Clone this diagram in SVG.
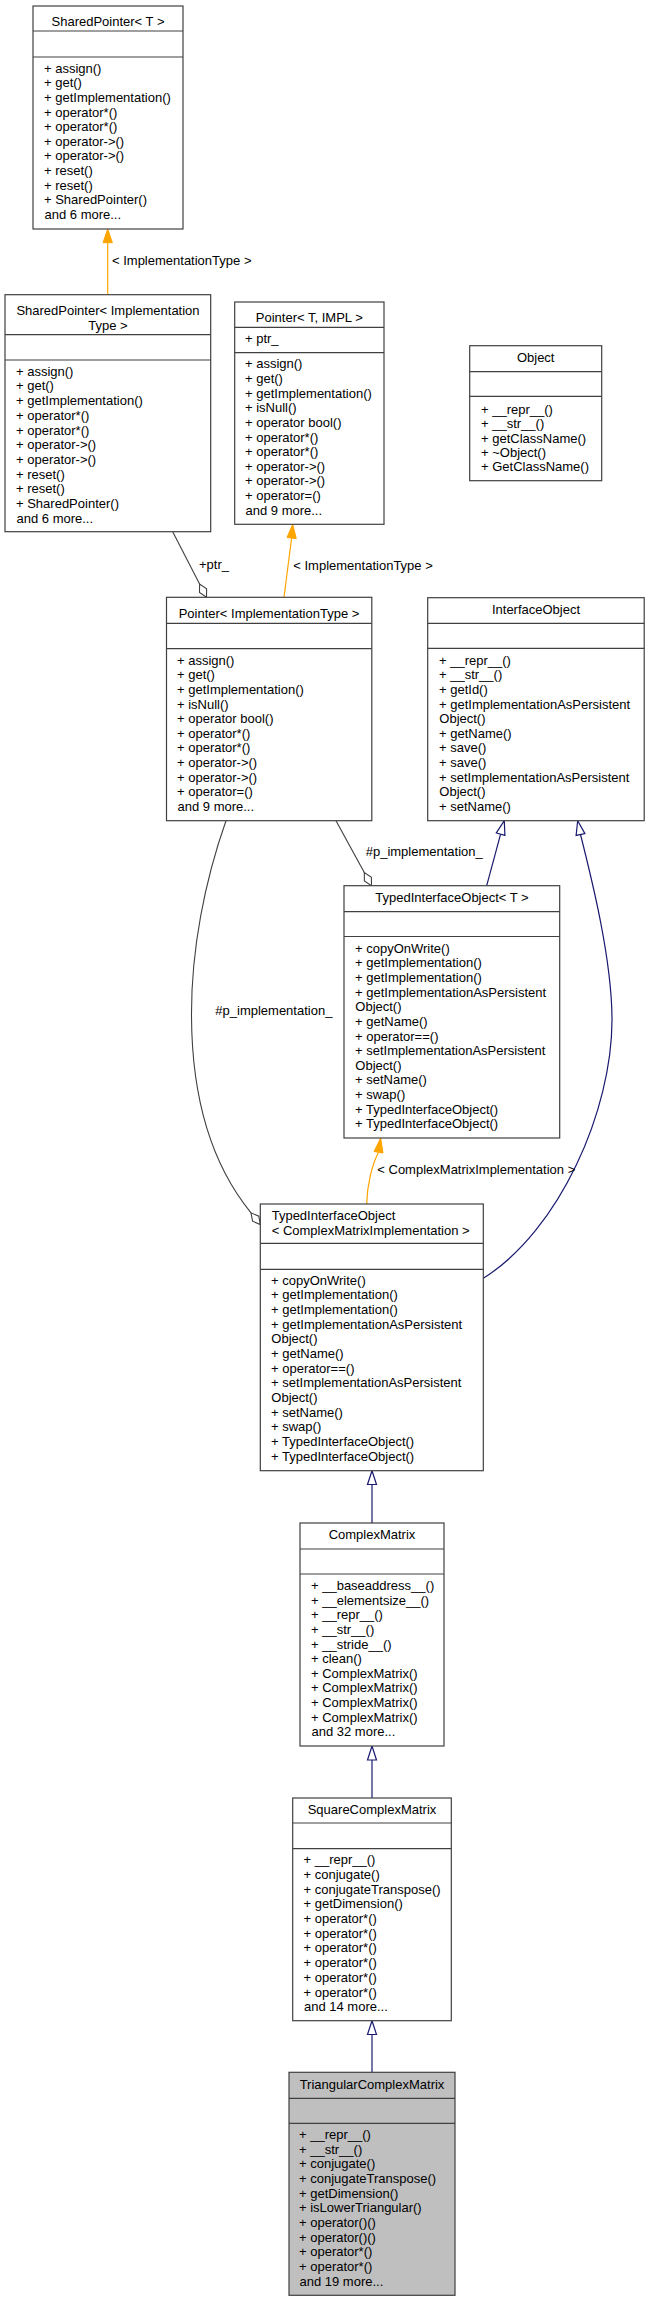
<svg xmlns="http://www.w3.org/2000/svg" width="649" height="2301" viewBox="0 0 649 2301">
<style>
text{font-family:"Liberation Sans",Arial,sans-serif;font-size:13px;fill:#000}
.c{text-anchor:middle}
.box{fill:#fff;stroke:#404040;stroke-width:1.2}
.sel{fill:#bfbfbf;stroke:#404040;stroke-width:1.2}
.sep{stroke:#404040;stroke-width:1.2}
.inh{fill:none;stroke:#191970;stroke-width:1.2}
.inhh{fill:#fff;stroke:#191970;stroke-width:1.2}
.tpl{fill:none;stroke:#ffa500;stroke-width:1.2}
.tplh{fill:#ffa500;stroke:#ffa500;stroke-width:1}
.agg{fill:none;stroke:#404040;stroke-width:1.1}
.aggh{fill:#fff;stroke:#404040;stroke-width:1.1}
</style>
<rect width="649" height="2301" fill="#fff"/>
<g id="connectors">
<line class="tpl" x1="107.7" y1="294.7" x2="107.7" y2="242.7"/>
<polygon class="tplh" points="107.7,229 103,242.7 112.4,242.7"/>
<text x="112" y="265">&lt; ImplementationType &gt;</text>
<line class="tpl" x1="284" y1="597.3" x2="291.6" y2="538"/>
<polygon class="tplh" points="292.7,524.3 287,537.5 296.3,538.6"/>
<text x="293.3" y="569.5">&lt; ImplementationType &gt;</text>
<line class="agg" x1="172.7" y1="531.7" x2="199.6" y2="584"/>
<polygon class="aggh" points="206.5,597.3 206.6,588.8 199.6,584 199.5,592.5"/>
<text x="199" y="569">+ptr_</text>
<line class="agg" x1="336" y1="820.7" x2="364.3" y2="872.5"/>
<polygon class="aggh" points="371.5,885.7 371.4,877.2 364.3,872.5 364.4,881"/>
<text x="365.7" y="856">#p_implementation_</text>
<line class="inh" x1="486.7" y1="885.7" x2="500.6" y2="834.2"/>
<polygon class="inhh" points="504.3,820.7 504.9,835.4 496.3,833"/>
<path class="inh" d="M483.3,1278.3 C560,1230 612,1110 612,1020 C612,960 592,880 580.5,834.5"/>
<polygon class="inhh" points="577.7,820.7 584.9,833.6 576.1,835.4"/>
<path class="tpl" d="M366.7,1204 C367,1185 372,1165 378.5,1152.3"/>
<polygon class="tplh" points="380.7,1138 374,1151.5 383,1153"/>
<text x="377.3" y="1173.5">&lt; ComplexMatrixImplementation &gt;</text>
<path class="agg" d="M226,820.7 C205,880 191,950 191.5,1017 C192,1100 212,1165 251,1212.8"/>
<polygon class="aggh" points="260.3,1224.5 258.8,1216.2 251,1212.8 252.6,1221.2"/>
<text x="215.3" y="1015">#p_implementation_</text>
<line class="inh" x1="372" y1="1523" x2="372" y2="1484.5"/>
<polygon class="inhh" points="372,1470.7 367.5,1484.5 376.5,1484.5"/>
<line class="inh" x1="372" y1="1798" x2="372" y2="1760"/>
<polygon class="inhh" points="372,1746 367.5,1760 376.5,1760"/>
<line class="inh" x1="372" y1="2072.3" x2="372" y2="2034.5"/>
<polygon class="inhh" points="372,2020.7 367.5,2034.5 376.5,2034.5"/>
</g>
<g id="SharedPointerT">
<rect class="box" x="33" y="6" width="150" height="223"/>
<line class="sep" x1="33" y1="31" x2="183" y2="31"/>
<line class="sep" x1="33" y1="57" x2="183" y2="57"/>
<text class="c" x="108" y="25.5">SharedPointer&lt; T &gt;</text>
<text x="44" y="72.7">+ assign()</text>
<text x="44" y="87.3">+ get()</text>
<text x="44" y="101.9">+ getImplementation()</text>
<text x="44" y="116.5">+ operator*()</text>
<text x="44" y="131.1">+ operator*()</text>
<text x="44" y="145.7">+ operator-&gt;()</text>
<text x="44" y="160.3">+ operator-&gt;()</text>
<text x="44" y="174.9">+ reset()</text>
<text x="44" y="189.5">+ reset()</text>
<text x="44" y="204.1">+ SharedPointer()</text>
<text x="44.5" y="218.7">and 6 more...</text>
</g>
<g id="SharedPointerImpl">
<rect class="box" x="5" y="294.7" width="205.7" height="237"/>
<line class="sep" x1="5" y1="334.7" x2="210.7" y2="334.7"/>
<line class="sep" x1="5" y1="360" x2="210.7" y2="360"/>
<text class="c" x="108" y="315">SharedPointer&lt; Implementation</text>
<text class="c" x="108" y="329.5">Type &gt;</text>
<text x="16" y="375.7">+ assign()</text>
<text x="16" y="390.4">+ get()</text>
<text x="16" y="405.1">+ getImplementation()</text>
<text x="16" y="419.8">+ operator*()</text>
<text x="16" y="434.5">+ operator*()</text>
<text x="16" y="449.2">+ operator-&gt;()</text>
<text x="16" y="463.9">+ operator-&gt;()</text>
<text x="16" y="478.6">+ reset()</text>
<text x="16" y="493.3">+ reset()</text>
<text x="16" y="508">+ SharedPointer()</text>
<text x="16.5" y="522.7">and 6 more...</text>
</g>
<g id="PointerTIMPL">
<rect class="box" x="234.7" y="302" width="149.3" height="222.3"/>
<line class="sep" x1="234.7" y1="327.3" x2="384" y2="327.3"/>
<line class="sep" x1="234.7" y1="352.7" x2="384" y2="352.7"/>
<text class="c" x="309.3" y="322">Pointer&lt; T, IMPL &gt;</text>
<text x="245" y="343">+ ptr_</text>
<text x="245" y="368.3">+ assign()</text>
<text x="245" y="382.9">+ get()</text>
<text x="245" y="397.6">+ getImplementation()</text>
<text x="245" y="412.2">+ isNull()</text>
<text x="245" y="426.9">+ operator bool()</text>
<text x="245" y="441.5">+ operator*()</text>
<text x="245" y="456.1">+ operator*()</text>
<text x="245" y="470.8">+ operator-&gt;()</text>
<text x="245" y="485.4">+ operator-&gt;()</text>
<text x="245" y="500.1">+ operator=()</text>
<text x="245.5" y="514.7">and 9 more...</text>
</g>
<g id="Object">
<rect class="box" x="469.7" y="345.7" width="132" height="135"/>
<line class="sep" x1="469.7" y1="371.7" x2="601.7" y2="371.7"/>
<line class="sep" x1="469.7" y1="396.3" x2="601.7" y2="396.3"/>
<text class="c" x="535.7" y="362">Object</text>
<text x="481" y="414">+ __repr__()</text>
<text x="481" y="428.3">+ __str__()</text>
<text x="481" y="442.5">+ getClassName()</text>
<text x="481" y="456.7">+ ~Object()</text>
<text x="481" y="470.8">+ GetClassName()</text>
</g>
<g id="PointerImpl">
<rect class="box" x="166.5" y="597.3" width="205.3" height="223.4"/>
<line class="sep" x1="166.5" y1="623.3" x2="371.8" y2="623.3"/>
<line class="sep" x1="166.5" y1="648.7" x2="371.8" y2="648.7"/>
<text class="c" x="269" y="617.5">Pointer&lt; ImplementationType &gt;</text>
<text x="177" y="664.7">+ assign()</text>
<text x="177" y="679.3">+ get()</text>
<text x="177" y="693.9">+ getImplementation()</text>
<text x="177" y="708.5">+ isNull()</text>
<text x="177" y="723.1">+ operator bool()</text>
<text x="177" y="737.7">+ operator*()</text>
<text x="177" y="752.3">+ operator*()</text>
<text x="177" y="766.9">+ operator-&gt;()</text>
<text x="177" y="781.5">+ operator-&gt;()</text>
<text x="177" y="796.1">+ operator=()</text>
<text x="177.5" y="810.7">and 9 more...</text>
</g>
<g id="InterfaceObject">
<rect class="box" x="427.7" y="597.7" width="216.5" height="223"/>
<line class="sep" x1="427.7" y1="623.3" x2="644.2" y2="623.3"/>
<line class="sep" x1="427.7" y1="648.3" x2="644.2" y2="648.3"/>
<text class="c" x="536" y="613.5">InterfaceObject</text>
<text x="439" y="664.7">+ __repr__()</text>
<text x="439" y="679.3">+ __str__()</text>
<text x="439" y="693.9">+ getId()</text>
<text x="439" y="708.5">+ getImplementationAsPersistent</text>
<text x="439.3" y="723.1">Object()</text>
<text x="439" y="737.7">+ getName()</text>
<text x="439" y="752.3">+ save()</text>
<text x="439" y="766.9">+ save()</text>
<text x="439" y="781.5">+ setImplementationAsPersistent</text>
<text x="439.3" y="796.1">Object()</text>
<text x="439" y="810.7">+ setName()</text>
</g>
<g id="TypedInterfaceObjectT">
<rect class="box" x="344" y="885.7" width="215.7" height="252.3"/>
<line class="sep" x1="344" y1="911.7" x2="559.7" y2="911.7"/>
<line class="sep" x1="344" y1="936.5" x2="559.7" y2="936.5"/>
<text class="c" x="452" y="902">TypedInterfaceObject&lt; T &gt;</text>
<text x="355" y="952.7">+ copyOnWrite()</text>
<text x="355" y="967.3">+ getImplementation()</text>
<text x="355" y="982">+ getImplementation()</text>
<text x="355" y="996.6">+ getImplementationAsPersistent</text>
<text x="355.3" y="1011.2">Object()</text>
<text x="355" y="1025.9">+ getName()</text>
<text x="355" y="1040.5">+ operator==()</text>
<text x="355" y="1055.1">+ setImplementationAsPersistent</text>
<text x="355.3" y="1069.7">Object()</text>
<text x="355" y="1084.4">+ setName()</text>
<text x="355" y="1099">+ swap()</text>
<text x="355" y="1113.6">+ TypedInterfaceObject()</text>
<text x="355" y="1128.3">+ TypedInterfaceObject()</text>
</g>
<g id="TypedInterfaceObjectCMI">
<rect class="box" x="260.3" y="1204" width="223" height="266.7"/>
<line class="sep" x1="260.3" y1="1243.3" x2="483.3" y2="1243.3"/>
<line class="sep" x1="260.3" y1="1269.3" x2="483.3" y2="1269.3"/>
<text x="271.7" y="1220">TypedInterfaceObject</text>
<text x="271.7" y="1235">&lt; ComplexMatrixImplementation &gt;</text>
<text x="271" y="1284.7">+ copyOnWrite()</text>
<text x="271" y="1299.4">+ getImplementation()</text>
<text x="271" y="1314">+ getImplementation()</text>
<text x="271" y="1328.7">+ getImplementationAsPersistent</text>
<text x="271.3" y="1343.4">Object()</text>
<text x="271" y="1358.1">+ getName()</text>
<text x="271" y="1372.7">+ operator==()</text>
<text x="271" y="1387.4">+ setImplementationAsPersistent</text>
<text x="271.3" y="1402.1">Object()</text>
<text x="271" y="1416.7">+ setName()</text>
<text x="271" y="1431.4">+ swap()</text>
<text x="271" y="1446.1">+ TypedInterfaceObject()</text>
<text x="271" y="1460.7">+ TypedInterfaceObject()</text>
</g>
<g id="ComplexMatrix">
<rect class="box" x="300" y="1523" width="144" height="223"/>
<line class="sep" x1="300" y1="1549" x2="444" y2="1549"/>
<line class="sep" x1="300" y1="1574" x2="444" y2="1574"/>
<text class="c" x="372" y="1538.5">ComplexMatrix</text>
<text x="311" y="1590">+ __baseaddress__()</text>
<text x="311" y="1604.6">+ __elementsize__()</text>
<text x="311" y="1619.3">+ __repr__()</text>
<text x="311" y="1633.9">+ __str__()</text>
<text x="311" y="1648.5">+ __stride__()</text>
<text x="311" y="1663.2">+ clean()</text>
<text x="311" y="1677.8">+ ComplexMatrix()</text>
<text x="311" y="1692.4">+ ComplexMatrix()</text>
<text x="311" y="1707">+ ComplexMatrix()</text>
<text x="311" y="1721.7">+ ComplexMatrix()</text>
<text x="311.5" y="1736.3">and 32 more...</text>
</g>
<g id="SquareComplexMatrix">
<rect class="box" x="292.7" y="1798" width="158.6" height="222.7"/>
<line class="sep" x1="292.7" y1="1823" x2="451.3" y2="1823"/>
<line class="sep" x1="292.7" y1="1848.7" x2="451.3" y2="1848.7"/>
<text class="c" x="372" y="1814">SquareComplexMatrix</text>
<text x="303.5" y="1864">+ __repr__()</text>
<text x="303.5" y="1878.7">+ conjugate()</text>
<text x="303.5" y="1893.5">+ conjugateTranspose()</text>
<text x="303.5" y="1908.2">+ getDimension()</text>
<text x="303.5" y="1922.9">+ operator*()</text>
<text x="303.5" y="1937.7">+ operator*()</text>
<text x="303.5" y="1952.4">+ operator*()</text>
<text x="303.5" y="1967.1">+ operator*()</text>
<text x="303.5" y="1981.8">+ operator*()</text>
<text x="303.5" y="1996.6">+ operator*()</text>
<text x="304" y="2011.3">and 14 more...</text>
</g>
<g id="TriangularComplexMatrix">
<rect class="sel" x="289" y="2072.3" width="166" height="223"/>
<line class="sep" x1="289" y1="2098.3" x2="455" y2="2098.3"/>
<line class="sep" x1="289" y1="2123.3" x2="455" y2="2123.3"/>
<text class="c" x="372" y="2088.5">TriangularComplexMatrix</text>
<text x="299" y="2139">+ __repr__()</text>
<text x="299" y="2153.7">+ __str__()</text>
<text x="299" y="2168.3">+ conjugate()</text>
<text x="299" y="2183">+ conjugateTranspose()</text>
<text x="299" y="2197.7">+ getDimension()</text>
<text x="299" y="2212.4">+ isLowerTriangular()</text>
<text x="299" y="2227">+ operator()()</text>
<text x="299" y="2241.7">+ operator()()</text>
<text x="299" y="2256.4">+ operator*()</text>
<text x="299" y="2271">+ operator*()</text>
<text x="299.5" y="2285.7">and 19 more...</text>
</g>
</svg>
